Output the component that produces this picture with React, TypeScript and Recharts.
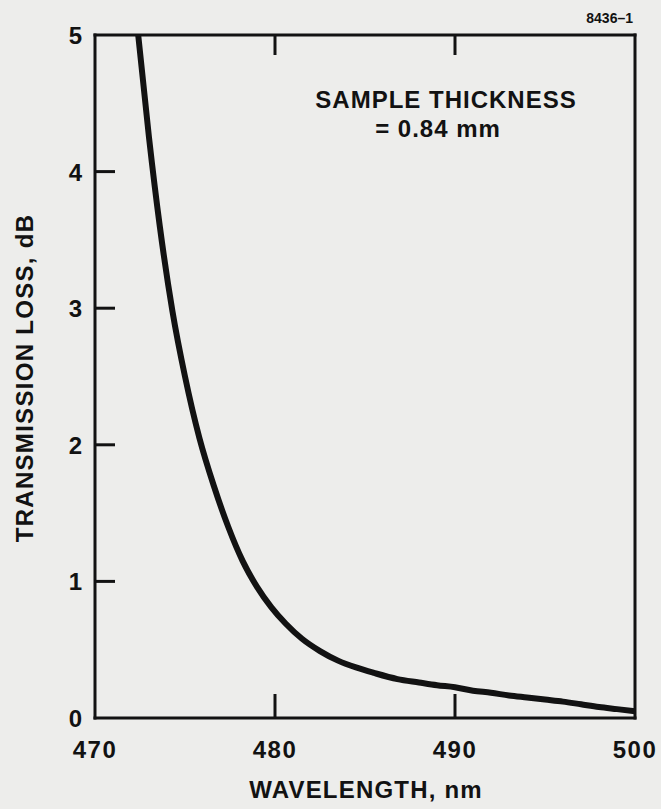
import { LineChart, Line, XAxis, YAxis } from "recharts";

const wavelengths = [
  472.4, 473.0, 473.6, 474.3, 475.0, 475.8, 476.6, 477.4, 478.2, 479.0, 479.8, 480.6, 481.5,
  482.5, 483.5, 484.5, 485.5, 486.8, 488.0, 489.0, 490.0, 491.0, 492.0, 493.0, 494.0, 495.0,
  496.0, 497.0, 498.0, 499.0, 500.0,
];
const losses = [
  5.0, 4.25, 3.6, 2.98, 2.5, 2.05, 1.7, 1.4, 1.15, 0.96, 0.81, 0.69, 0.58,
  0.49, 0.42, 0.37, 0.33, 0.285, 0.26, 0.24, 0.225, 0.2, 0.185, 0.165, 0.15, 0.135,
  0.12, 0.1, 0.08, 0.065, 0.05,
];
const xTicks = [470, 480, 490, 500];
const yTicks = [0, 1, 2, 3, 4, 5];

const data = wavelengths.map((w, i) => ({ w, loss: losses[i] }));

const FONT = '"Liberation Sans", Arial, sans-serif';
const INK = "#121212";

function BottomTick({ x, y, payload }: any) {
  const edge = payload.value === 470 || payload.value === 500;
  return (
    <g>
      {!edge && <line x1={x} y1={y} x2={x} y2={y - 24} stroke={INK} strokeWidth={3} />}
      <text x={x} y={y + 40} textAnchor="middle" fontFamily={FONT} fontWeight="bold" fontSize={24} letterSpacing={1.5} fill={INK}>
        {payload.value}
      </text>
    </g>
  );
}

function TopTick({ x, y, payload }: any) {
  if (payload.value === 470 || payload.value === 500) return <g />;
  return <line x1={x} y1={y} x2={x} y2={y + 20} stroke={INK} strokeWidth={3} />;
}

function LeftTick({ x, y, payload }: any) {
  const edge = payload.value === 0 || payload.value === 5;
  return (
    <g>
      {!edge && <line x1={x + 13} y1={y} x2={x + 33} y2={y} stroke={INK} strokeWidth={3} />}
      <text x={x} y={y + 9} textAnchor="end" fontFamily={FONT} fontWeight="bold" fontSize={24} fill={INK}>
        {payload.value}
      </text>
    </g>
  );
}

function RightTick({ x, y, payload }: any) {
  if (payload.value === 0 || payload.value === 5) return <g />;
  return <line x1={x} y1={y} x2={x - 20} y2={y} stroke={INK} strokeWidth={3} />;
}

const axisLine = { stroke: INK, strokeWidth: 3, strokeLinecap: "square" as const };

export default function App() {
  return (
    <div style={{ position: "absolute", left: 0, top: 0, width: 661, height: 809, background: "#ededeb" }}>
      <LineChart width={661} height={809} data={data} margin={{ top: 5, right: 0, bottom: 51, left: 35 }}>
        <XAxis
          dataKey="w"
          type="number"
          domain={[470, 500]}
          ticks={xTicks}
          height={40}
          tickSize={0}
          tickMargin={0}
          tickLine={false}
          axisLine={axisLine}
          tick={<BottomTick />}
        />
        <XAxis
          xAxisId="top"
          orientation="top"
          dataKey="w"
          type="number"
          domain={[470, 500]}
          ticks={xTicks}
          height={30}
          tickSize={0}
          tickMargin={0}
          tickLine={false}
          axisLine={axisLine}
          tick={<TopTick />}
        />
        <YAxis
          type="number"
          domain={[0, 5]}
          ticks={yTicks}
          width={60}
          tickSize={0}
          tickMargin={13}
          tickLine={false}
          axisLine={axisLine}
          tick={<LeftTick />}
        />
        <YAxis
          yAxisId="right"
          orientation="right"
          type="number"
          domain={[0, 5]}
          ticks={yTicks}
          width={26}
          tickSize={0}
          tickMargin={0}
          tickLine={false}
          axisLine={axisLine}
          tick={<RightTick />}
        />
        <Line
          dataKey="loss"
          type="monotone"
          stroke={INK}
          strokeWidth={6}
          dot={false}
          isAnimationActive={false}
        />
        <text x={446} y={108} textAnchor="middle" fontFamily={FONT} fontWeight="bold" fontSize={24} letterSpacing={1} fill={INK}>
          SAMPLE THICKNESS
        </text>
        <text x={438} y={137} textAnchor="middle" fontFamily={FONT} fontWeight="bold" fontSize={24} letterSpacing={1} fill={INK}>
          = 0.84  mm
        </text>
        <text x={633} y={23} textAnchor="end" fontFamily={FONT} fontWeight="bold" fontSize={14} fill={INK}>
          8436–1
        </text>
        <text x={366} y={798} textAnchor="middle" fontFamily={FONT} fontWeight="bold" fontSize={24} letterSpacing={1.2} fill={INK}>
          WAVELENGTH, nm
        </text>
        <text
          x={33}
          y={378}
          transform="rotate(-90 33 378)"
          textAnchor="middle"
          fontFamily={FONT}
          fontWeight="bold"
          fontSize={24}
          letterSpacing={1.3}
          fill={INK}
        >
          TRANSMISSION LOSS, dB
        </text>
      </LineChart>
    </div>
  );
}
